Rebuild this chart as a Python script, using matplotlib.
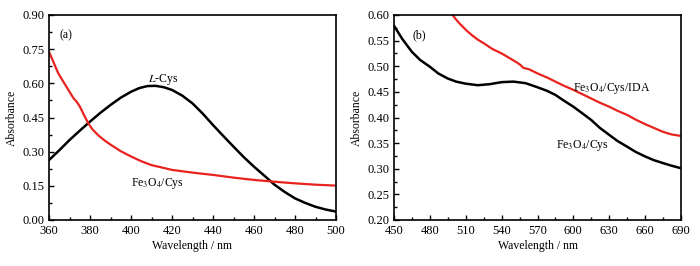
import matplotlib
matplotlib.use("Agg")
import matplotlib.pyplot as plt
from matplotlib.ticker import MultipleLocator

plt.rcParams['font.family'] = ['Liberation Serif', 'DejaVu Serif']
plt.rcParams['mathtext.fontset'] = 'stix'

# (a) L-Cys
wl_a_cys = [360, 365, 370, 375, 380, 385, 390, 395, 400, 404, 408, 412, 416, 420, 425, 430, 435, 440,
            445, 450, 455, 460, 465, 470, 475, 480, 485, 490, 495, 500]
abs_a_cys = [0.263, 0.306, 0.351, 0.392, 0.432, 0.470, 0.505, 0.537, 0.563, 0.579, 0.588, 0.589, 0.583,
             0.571, 0.546, 0.512, 0.467, 0.417, 0.369, 0.322, 0.276, 0.234, 0.195, 0.155, 0.123,
             0.095, 0.075, 0.058, 0.046, 0.037]
# (a) Fe3O4/Cys
wl_a_fe = [360, 362, 364.5, 367, 370, 372, 373.5, 375, 377, 379, 381, 384, 387, 390, 395, 400, 405, 410,
           420, 430, 440, 450, 460, 470, 480, 490, 500]
abs_a_fe = [0.739, 0.697, 0.644, 0.607, 0.563, 0.534, 0.519, 0.499, 0.462, 0.427, 0.400, 0.372, 0.350,
            0.331, 0.302, 0.279, 0.258, 0.241, 0.220, 0.208, 0.198, 0.186, 0.176, 0.168, 0.161, 0.155,
            0.151]

# (b) Fe3O4/Cys
wl_b_cys = [450, 457, 465, 472, 480, 487, 495, 502, 510, 520, 530, 540, 550, 560, 570, 578, 585, 592,
            600, 607, 615, 622, 630, 637, 645, 652, 660, 667, 675, 682, 690]
abs_b_cys = [0.579, 0.553, 0.528, 0.512, 0.499, 0.486, 0.476, 0.470, 0.466, 0.463, 0.465, 0.469, 0.470,
             0.467, 0.459, 0.452, 0.444, 0.433, 0.421, 0.409, 0.395, 0.380, 0.366, 0.354, 0.343,
             0.333, 0.324, 0.317, 0.311, 0.306, 0.301]
# (b) Fe3O4/Cys/IDA
wl_b_ida = [499, 502, 505, 508, 511, 515, 520, 525, 532, 540, 548, 553, 556, 558, 563, 570, 578, 585,
            592, 600, 607, 615, 622, 630, 637, 645, 652, 660, 667, 675, 682, 690]
abs_b_ida = [0.600, 0.591, 0.583, 0.576, 0.569, 0.561, 0.552, 0.545, 0.534, 0.525, 0.514, 0.507, 0.502,
             0.497, 0.494, 0.486, 0.478, 0.470, 0.462, 0.454, 0.446, 0.437, 0.429, 0.421, 0.413,
             0.405, 0.396, 0.387, 0.380, 0.372, 0.367, 0.364]

fig = plt.figure(figsize=(7, 2.66), dpi=100)
ax1 = fig.add_axes([49/700, 1-220/266, 287/700, 205/266])
ax2 = fig.add_axes([394/700, 1-220/266, 287/700, 205/266])

ax1.plot(wl_a_cys, abs_a_cys, color='black', lw=1.8)
ax1.plot(wl_a_fe, abs_a_fe, color='#e8231f', lw=1.6)
ax1.set_xlim(360, 500)
ax1.set_ylim(0, 0.9)
ax1.xaxis.set_major_locator(MultipleLocator(20))
ax1.xaxis.set_minor_locator(MultipleLocator(10))
ax1.yaxis.set_major_locator(MultipleLocator(0.15))
ax1.yaxis.set_minor_locator(MultipleLocator(0.075))
ax1.text(368.5, 0.81, "(a)", fontsize=8.5, ha='center', va='center')
ax1.text(415.5, 0.615, r"$\it{L}$-Cys", fontsize=8.5, ha='center', va='center')
ax1.text(413, 0.162, r"Fe$_3$O$_4$/Cys", fontsize=8.5, ha='center', va='center')

ax2.plot(wl_b_cys, abs_b_cys, color='black', lw=1.8)
ax2.plot(wl_b_ida, abs_b_ida, color='#e8231f', lw=1.6)
ax2.set_xlim(450, 690)
ax2.set_ylim(0.2, 0.6)
ax2.xaxis.set_major_locator(MultipleLocator(30))
ax2.xaxis.set_minor_locator(MultipleLocator(15))
ax2.yaxis.set_major_locator(MultipleLocator(0.05))
ax2.yaxis.set_minor_locator(MultipleLocator(0.025))
ax2.text(471.5, 0.561, "(b)", fontsize=8.5, ha='center', va='center')
ax2.text(632, 0.457, r"Fe$_3$O$_4$/Cys/IDA", fontsize=8.5, ha='center', va='center')
ax2.text(607.5, 0.346, r"Fe$_3$O$_4$/Cys", fontsize=8.5, ha='center', va='center')

for ax in (ax1, ax2):
    ax.yaxis.set_major_formatter(matplotlib.ticker.FormatStrFormatter('%.2f'))
    ax.tick_params(which='both', direction='in', top=False, right=False, labelsize=9)
    ax.tick_params(which='major', length=3.5, width=1)
    ax.tick_params(which='minor', length=2, width=1)
    for s in ax.spines.values():
        s.set_linewidth(1.2)
    ax.set_xlabel("Wavelength / nm", fontsize=8.5, labelpad=2)
    ax.set_ylabel("Absorbance", fontsize=8.5, labelpad=3)

fig.savefig("out.png", dpi=100)
